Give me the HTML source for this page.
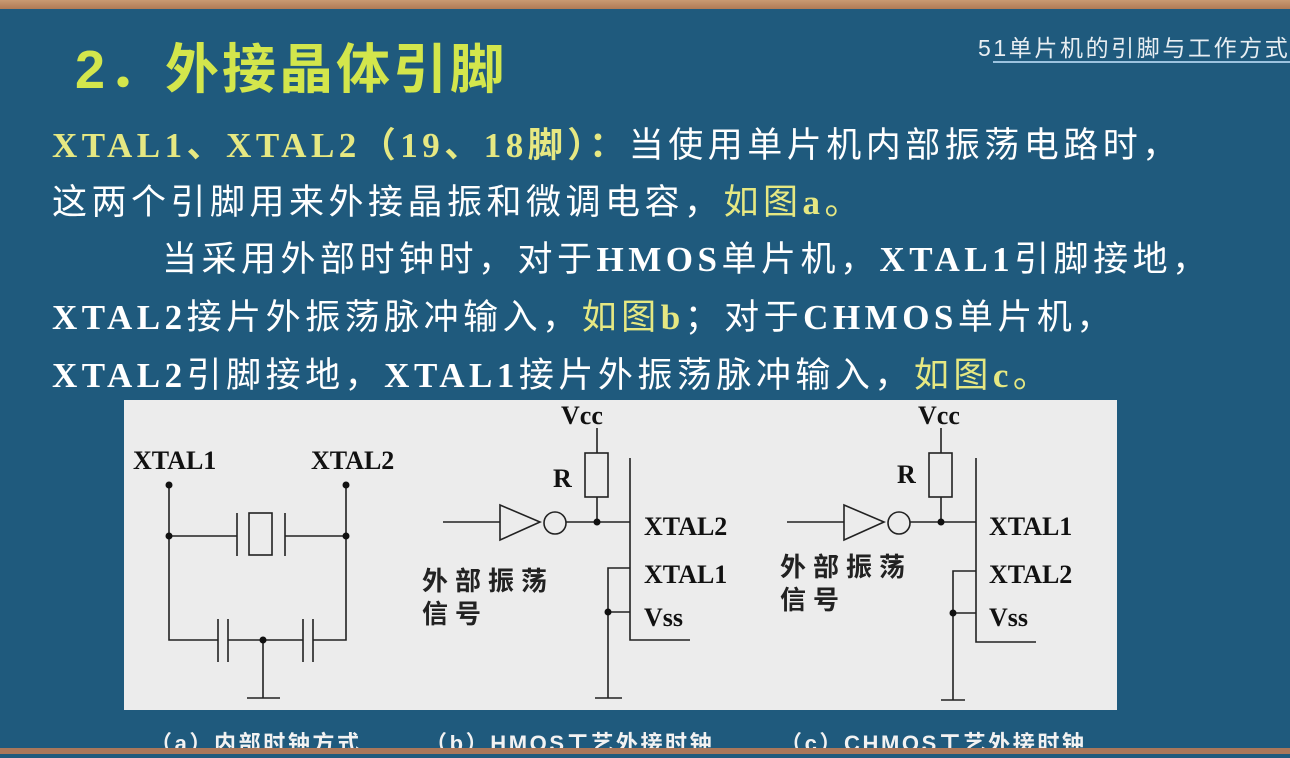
<!DOCTYPE html>
<html><head><meta charset="utf-8"><style>
html,body{margin:0;padding:0}
body{width:1290px;height:754px;overflow:hidden;position:relative;background:#1f5a7d;font-family:"Liberation Serif","Noto Sans CJK SC",sans-serif}
.wood{position:absolute;left:0;top:0;width:1290px;height:9px;background:linear-gradient(#c99a72,#b07a55)}
.woodb{position:absolute;left:0;top:748px;width:1290px;height:6px;background:#a9775a}
.t{position:absolute;white-space:nowrap;color:#fff;font-weight:bold}
.y{color:#e6e882}
.title{left:75px;top:25px;font-size:54px;letter-spacing:3px;color:#d3e64c;font-family:"Liberation Sans","Noto Sans CJK SC",sans-serif;font-weight:bold}
.hdr{position:absolute;left:978px;top:29px;font-size:23px;letter-spacing:2.6px;color:#e8eef2;font-family:"Liberation Sans","Noto Sans CJK SC",sans-serif;white-space:nowrap}
.line{position:absolute;left:993px;top:61px;width:297px;height:2px;background:#9cc3df}
.p{font-size:35px;letter-spacing:4.5px}
.p span.c{font-family:"Noto Sans CJK SC",sans-serif;font-weight:normal}
.cap{position:absolute;top:726px;font-size:22px;letter-spacing:2.6px;color:#f2f2f2;font-weight:bold;font-family:"Liberation Sans","Noto Sans CJK SC",sans-serif;white-space:nowrap}
</style></head><body>
<div class="wood"></div>
<div class="t title">2．外接晶体引脚</div>
<div class="hdr">51单片机的引脚与工作方式</div>
<div class="line"></div>
<div class="t p" style="left:52px;top:117px"><span class="y">XTAL1、XTAL2（19、18脚）：</span><span class="c">当使用单片机内部振荡电路时，</span></div>
<div class="t p" style="left:52px;top:174px"><span class="c">这两个引脚用来外接晶振和微调电容，</span><span class="y"><span class="c">如图</span>a<span class="c">。</span></span></div>
<div class="t p" style="left:162px;top:231px"><span class="c">当采用外部时钟时，对于</span>HMOS<span class="c">单片机，</span>XTAL1<span class="c">引脚接地，</span></div>
<div class="t p" style="left:52px;top:289px">XTAL2<span class="c">接片外振荡脉冲输入，</span><span class="y"><span class="c">如图</span>b</span><span class="c">；对于</span>CHMOS<span class="c">单片机，</span></div>
<div class="t p" style="left:52px;top:347px">XTAL2<span class="c">引脚接地，</span>XTAL1<span class="c">接片外振荡脉冲输入，</span><span class="y"><span class="c">如图</span>c<span class="c">。</span></span></div>

<svg style="position:absolute;left:0;top:0" width="1290" height="754">
<rect x="124" y="400" width="993" height="310" fill="#ececec"/>
<g stroke="#222" stroke-width="1.6" fill="none">
<path d="M169 485V640H218M228 640H303M313 640H346V485"/>
<path d="M169 536H237M285 536H346"/>
<path d="M237 513V556M285 513V556"/>
<rect x="249" y="513" width="23" height="42"/>
<path d="M218 619V662M228 619V662M303 619V662M313 619V662"/>
<path d="M263 640V698M247 698H280"/>
<path d="M597 428V453M597 497V522"/>
<rect x="585" y="453" width="23" height="44"/>
<path d="M630 458V640H690"/>
<path d="M443 522H500M500 505L540 522L500 540Z"/>
<circle cx="555" cy="523" r="11"/>
<path d="M566 522H630"/>
<path d="M630 568H608V698M595 698H622M608 612H630"/>
<path d="M941 428V453M941 497V522"/>
<rect x="929" y="453" width="23" height="44"/>
<path d="M976 458V642H1036"/>
<path d="M787 522H844M844 505L884 522L844 540Z"/>
<circle cx="899" cy="523" r="11"/>
<path d="M910 522H976"/>
<path d="M976 571H953V700M941 700H965M953 613H976"/>
</g>
<g fill="#111">
<circle cx="169" cy="485" r="3.5"/><circle cx="346" cy="485" r="3.5"/>
<circle cx="169" cy="536" r="3.5"/><circle cx="346" cy="536" r="3.5"/>
<circle cx="263" cy="640" r="3.5"/>
<circle cx="597" cy="522" r="3.5"/><circle cx="608" cy="612" r="3.5"/>
<circle cx="941" cy="522" r="3.5"/><circle cx="953" cy="613" r="3.5"/>
</g>
<g font-family="Liberation Serif" font-weight="bold" font-size="26" fill="#111">
<text x="133" y="469">XTAL1</text><text x="311" y="469">XTAL2</text>
<text x="561" y="424">Vcc</text><text x="553" y="487">R</text>
<text x="644" y="535">XTAL2</text><text x="644" y="583">XTAL1</text><text x="644" y="626">Vss</text>
<text x="918" y="424">Vcc</text><text x="897" y="483">R</text>
<text x="989" y="535">XTAL1</text><text x="989" y="583">XTAL2</text><text x="989" y="626">Vss</text>
</g>
<g font-family="Noto Sans CJK SC,sans-serif" font-weight="bold" font-size="26" fill="#222" letter-spacing="7">
<text x="422" y="590">外部振荡</text><text x="422" y="623">信号</text>
<text x="780" y="576">外部振荡</text><text x="780" y="609">信号</text>
</g>
</svg>
<div class="cap" style="left:150px">（a）内部时钟方式</div>
<div class="cap" style="left:425px">（b）HMOS工艺外接时钟</div>
<div class="cap" style="left:780px">（c）CHMOS工艺外接时钟</div>
<div class="woodb"></div>
</body></html>
